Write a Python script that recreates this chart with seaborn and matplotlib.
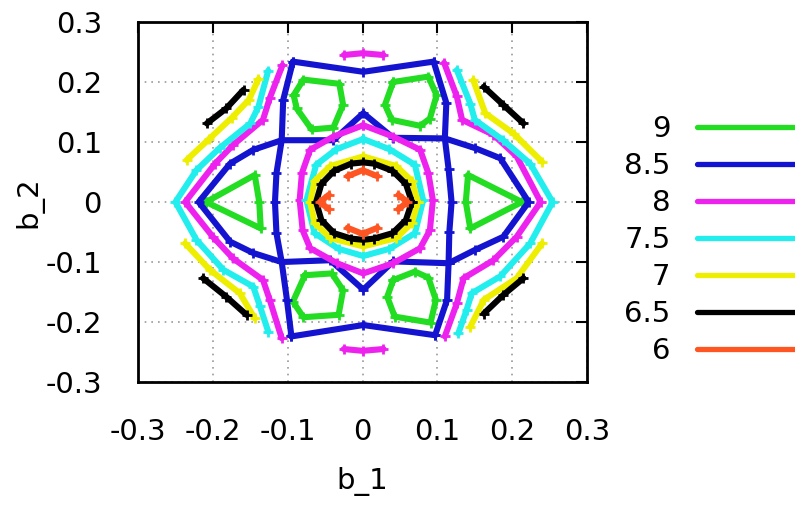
import matplotlib
matplotlib.use("Agg")
import matplotlib.pyplot as plt
import seaborn as sns
import pandas as pd

# contour levels and colours (legend order)
levels = ["9", "8.5", "8", "7.5", "7", "6.5", "6"]
colors = ["#22dd22", "#1414d0", "#ee22ee", "#22eeee", "#eeee00", "#000000", "#ff5522"]

# level 9 (green)
g_ul = [(-0.092, 0.178), (-0.079, 0.204), (-0.031, 0.197), (-0.026, 0.162), (-0.039, 0.124), (-0.068, 0.121), (-0.088, 0.156), (-0.092, 0.178)]
g_ur = [(0.041, 0.200), (0.088, 0.209), (0.099, 0.178), (0.090, 0.139), (0.077, 0.127), (0.039, 0.137), (0.030, 0.162), (0.041, 0.200)]
g_ll = [(-0.077, -0.122), (-0.041, -0.119), (-0.026, -0.147), (-0.032, -0.188), (-0.079, -0.192), (-0.093, -0.166), (-0.077, -0.122)]
g_lr = [(0.041, -0.130), (0.070, -0.116), (0.088, -0.126), (0.098, -0.163), (0.091, -0.201), (0.043, -0.191), (0.033, -0.158), (0.041, -0.130)]
g_left = [(-0.209, 0.0), (-0.144, 0.045), (-0.138, 0.0), (-0.136, -0.044), (-0.209, 0.0)]
g_right = [(0.213, 0.0), (0.141, 0.045), (0.138, 0.0), (0.144, -0.044), (0.213, 0.0)]

# level 8.5 (blue)
b_top = [(-0.093, 0.234), (0.001, 0.217), (0.095, 0.234)]
b_bottom = [(-0.095, -0.224), (0.001, -0.205), (0.097, -0.222)]
b_vleft = [(-0.093, 0.234), (-0.106, 0.170), (-0.108, 0.103), (-0.115, 0.048), (-0.117, 0.0), (-0.115, -0.052), (-0.108, -0.100), (-0.101, -0.163), (-0.095, -0.224)]
b_vright = [(0.095, 0.234), (0.112, 0.165), (0.110, 0.106), (0.115, 0.055), (0.119, 0.0), (0.116, -0.050), (0.115, -0.102), (0.113, -0.163), (0.097, -0.222)]
b_wleft = [(-0.108, 0.103), (-0.146, 0.087), (-0.177, 0.064), (-0.219, 0.0), (-0.177, -0.066), (-0.146, -0.085), (-0.108, -0.100)]
b_wright = [(0.110, 0.106), (0.150, 0.090), (0.184, 0.073), (0.222, 0.0), (0.188, -0.058), (0.150, -0.080), (0.115, -0.102)]
b_star_top = [(-0.108, 0.103), (-0.039, 0.103), (0.001, 0.148), (0.041, 0.107), (0.110, 0.106)]
b_star_bot = [(-0.108, -0.100), (-0.043, -0.097), (0.001, -0.146), (0.041, -0.099), (0.115, -0.102)]

# level 8 (magenta)
m_left = [(-0.107, 0.228), (-0.124, 0.173), (-0.133, 0.137), (-0.173, 0.095), (-0.197, 0.064), (-0.237, 0.0), (-0.200, -0.058), (-0.173, -0.094), (-0.133, -0.130), (-0.124, -0.163), (-0.108, -0.227)]
m_right = [(0.109, 0.232), (0.126, 0.176), (0.133, 0.137), (0.175, 0.112), (0.206, 0.076), (0.238, 0.0), (0.206, -0.058), (0.175, -0.097), (0.135, -0.127), (0.126, -0.169), (0.110, -0.224)]
m_top = [(-0.025, 0.245), (0.0, 0.248), (0.028, 0.245)]
m_bot = [(-0.025, -0.245), (0.0, -0.248), (0.028, -0.245)]
m_inner = [(0.001, 0.128), (-0.039, 0.109), (-0.070, 0.087), (-0.081, 0.048), (-0.084, 0.003), (-0.080, -0.047), (-0.070, -0.077), (-0.034, -0.102), (0.001, -0.119), (0.041, -0.102), (0.077, -0.077), (0.090, -0.047), (0.094, 0.003), (0.088, 0.048), (0.077, 0.087), (0.041, 0.109), (0.001, 0.128)]

# level 7.5 (cyan)
c_left = [(-0.126, 0.219), (-0.139, 0.159), (-0.150, 0.131), (-0.191, 0.090), (-0.222, 0.053), (-0.250, 0.0), (-0.222, -0.063), (-0.186, -0.113), (-0.146, -0.141), (-0.137, -0.174), (-0.126, -0.216)]
c_right = [(0.126, 0.220), (0.144, 0.164), (0.150, 0.137), (0.188, 0.103), (0.224, 0.064), (0.254, 0.0), (0.224, -0.069), (0.184, -0.124), (0.146, -0.152), (0.139, -0.180), (0.128, -0.219)]
c_inner = [(0.001, 0.105), (-0.035, 0.088), (-0.062, 0.062), (-0.075, 0.003), (-0.064, -0.052), (-0.032, -0.078), (0.001, -0.090), (0.036, -0.078), (0.070, -0.052), (0.081, 0.003), (0.070, 0.062), (0.036, 0.088), (0.001, 0.105)]

# level 7 (yellow)
y_ul = [(-0.139, 0.205), (-0.152, 0.170), (-0.175, 0.140), (-0.205, 0.105), (-0.235, 0.070)]
y_ur = [(0.148, 0.203), (0.164, 0.148), (0.202, 0.114), (0.240, 0.067)]
y_ll = [(-0.237, -0.069), (-0.204, -0.113), (-0.164, -0.152), (-0.144, -0.194)]
y_lr = [(0.240, -0.069), (0.206, -0.127), (0.162, -0.163), (0.144, -0.208)]
y_inner = [(0.074, 0.0), (0.066, 0.035), (0.045, 0.060), (0.001, 0.076), (-0.043, 0.060), (-0.064, 0.035), (-0.070, 0.0), (-0.064, -0.035), (-0.043, -0.060), (0.001, -0.074), (0.045, -0.060), (0.066, -0.035), (0.074, 0.0)]

# level 6.5 (black)
k_ul = [(-0.208, 0.131), (-0.182, 0.156), (-0.159, 0.187)]
k_ur = [(0.162, 0.192), (0.188, 0.162), (0.215, 0.131)]
k_ll = [(-0.213, -0.127), (-0.182, -0.158), (-0.155, -0.188)]
k_lr = [(0.215, -0.127), (0.188, -0.155), (0.162, -0.186)]
k_inner = [(0.066, 0.0), (0.058, 0.030), (0.040, 0.052), (0.015, 0.064), (0.001, 0.066), (-0.015, 0.064), (-0.038, 0.052), (-0.055, 0.030), (-0.062, 0.0), (-0.055, -0.030), (-0.038, -0.052), (-0.015, -0.061), (0.001, -0.063), (0.015, -0.061), (0.040, -0.052), (0.058, -0.030), (0.066, 0.0)]

# level 6 (orange)
o_top = [(-0.020, 0.043), (0.0, 0.053), (0.020, 0.043)]
o_bot = [(-0.020, -0.043), (0.0, -0.053), (0.020, -0.043)]
o_left = [(-0.045, 0.012), (-0.057, 0.0), (-0.045, -0.012)]
o_right = [(0.048, 0.012), (0.060, 0.0), (0.048, -0.012)]

contours = {
    "9": [g_ul, g_ur, g_ll, g_lr, g_left, g_right],
    "8.5": [b_top, b_bottom, b_vleft, b_vright, b_wleft, b_wright, b_star_top, b_star_bot],
    "8": [m_left, m_right, m_top, m_bot, m_inner],
    "7.5": [c_left, c_right, c_inner],
    "7": [y_ul, y_ur, y_ll, y_lr, y_inner],
    "6.5": [k_ul, k_ur, k_ll, k_lr, k_inner],
    "6": [o_top, o_bot, o_left, o_right],
}

ticks = [-0.3, -0.2, -0.1, 0, 0.1, 0.2, 0.3]
tick_labels = ["-0.3", "-0.2", "-0.1", "0", "0.1", "0.2", "0.3"]

sns.set_style("white")
plt.rcParams["font.family"] = ["DejaVu Sans"]
plt.rcParams["text.color"] = "black"
plt.rcParams["axes.labelcolor"] = "black"
plt.rcParams["xtick.color"] = "black"
plt.rcParams["ytick.color"] = "black"

fig = plt.figure(figsize=(7.95, 5.07), dpi=100)
ax = fig.add_axes([0.1736, 0.2465, 0.5648, 0.7101])

for lev, col in zip(levels, colors):
    for i, seg in enumerate(contours[lev]):
        df = pd.DataFrame(seg, columns=["b_1", "b_2"])
        sns.lineplot(data=df, x="b_1", y="b_2", sort=False, estimator=None,
                     color=col, lw=4.4, marker="+", markersize=7, mew=2,
                     mec=col, ax=ax, label=lev if i == 0 else None,
                     legend=False)

ax.set_xlim(-0.3, 0.3)
ax.set_ylim(-0.3, 0.3)
ax.set_xticks(ticks)
ax.set_xticklabels(tick_labels)
ax.set_yticks(ticks)
ax.set_yticklabels(tick_labels)
ax.grid(True, color="#999999", linestyle=(0, (1, 3)), lw=1.2)
ax.tick_params(direction="in", length=8, width=1.5, top=True, right=True,
               labelsize=21, pad=26, colors="black")
for s in ax.spines.values():
    s.set_linewidth(2)
    s.set_color("black")

ax.set_xlabel("b_1", fontsize=21)
ax.set_ylabel("b_2", fontsize=21)
ax.xaxis.set_label_coords(0.5, -0.235)
ax.yaxis.set_label_coords(-0.21, 0.5)

handles, labels = ax.get_legend_handles_labels()
leg = ax.legend(handles, labels, loc="upper left", bbox_to_anchor=(0.785, 0.773),
                bbox_transform=fig.transFigure, frameon=False, markerfirst=False,
                fontsize=21, handlelength=3.6, handletextpad=0.9,
                labelspacing=0.31, borderpad=0, borderaxespad=0)
for h in leg.get_lines():
    h.set_marker("")
    h.set_linewidth(3.8)
for t in leg.get_texts():
    t.set_color("black")

fig.savefig("out.png", dpi=100)
